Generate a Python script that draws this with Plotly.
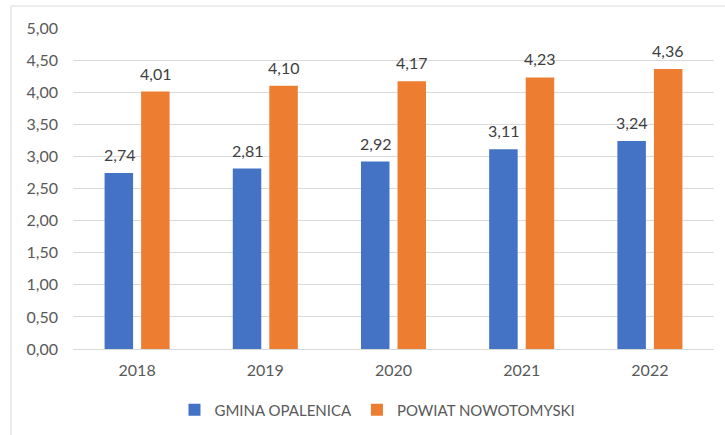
import plotly.graph_objects as go

years = ["2018", "2019", "2020", "2021", "2022"]
gmina = [2.74, 2.81, 2.92, 3.11, 3.24]
powiat = [4.01, 4.10, 4.17, 4.23, 4.36]
names = ["GMINA OPALENICA", "POWIAT NOWOTOMYSKI"]
tick_vals = [0, 0.5, 1, 1.5, 2, 2.5, 3, 3.5, 4, 4.5, 5]

def fmt(v):
    return f"{v:.2f}".replace(".", ",")

FONT = "Lato"
fig = go.Figure()
annotations = []
for (name, vals, col, shift) in [(names[0], gmina, "#4472C4", -18), (names[1], powiat, "#ED7D31", 18)]:
    fig.add_trace(go.Bar(
        x=years, y=vals, name=name, marker=dict(color=col, line=dict(width=0)),
    ))
    for i, v in enumerate(vals):
        annotations.append(dict(x=i, y=v, xref="x", yref="y", text=fmt(v), showarrow=False,
                                xshift=shift, yshift=7, yanchor="bottom",
                                font=dict(family=FONT, size=16, color="#404040")))

fig.update_layout(
    width=725, height=435,
    margin=dict(l=73, r=11, t=28, b=86, autoexpand=False),
    paper_bgcolor="white", plot_bgcolor="white",
    barmode="group", bargap=0.43, bargroupgap=0.22,
    font=dict(family=FONT, size=15, color="#595959"),
    showlegend=True,
    legend=dict(orientation="h", x=0.475, xanchor="center", y=-0.19, yanchor="middle",
                font=dict(family=FONT, size=15, color="#595959"), itemwidth=30,
                traceorder="normal"),
    xaxis=dict(type="category", showgrid=False, showline=False, zeroline=False, ticks="",
               tickfont=dict(family=FONT, size=16, color="#595959"), ticklabelstandoff=10),
    yaxis=dict(range=[0, 5], tickvals=tick_vals, ticktext=[fmt(v) for v in tick_vals],
               showgrid=True, gridcolor="#D9D9D9", gridwidth=1, zeroline=True,
               zerolinecolor="#D9D9D9", zerolinewidth=1, showline=False, ticks="",
               tickfont=dict(family=FONT, size=16, color="#595959"), ticklabelstandoff=14),
    annotations=annotations,
    shapes=[dict(type="rect", xref="paper", yref="paper",
                 x0=(11 - 73) / 641, x1=1.2, y0=-0.5, y1=(349 - 6) / 321,
                 line=dict(color="#D9D9D9", width=1), fillcolor="rgba(0,0,0,0)", layer="below")],
)

fig.write_html("out.html", config={"displayModeBar": False},
               post_script="document.body.style.margin='0';")
